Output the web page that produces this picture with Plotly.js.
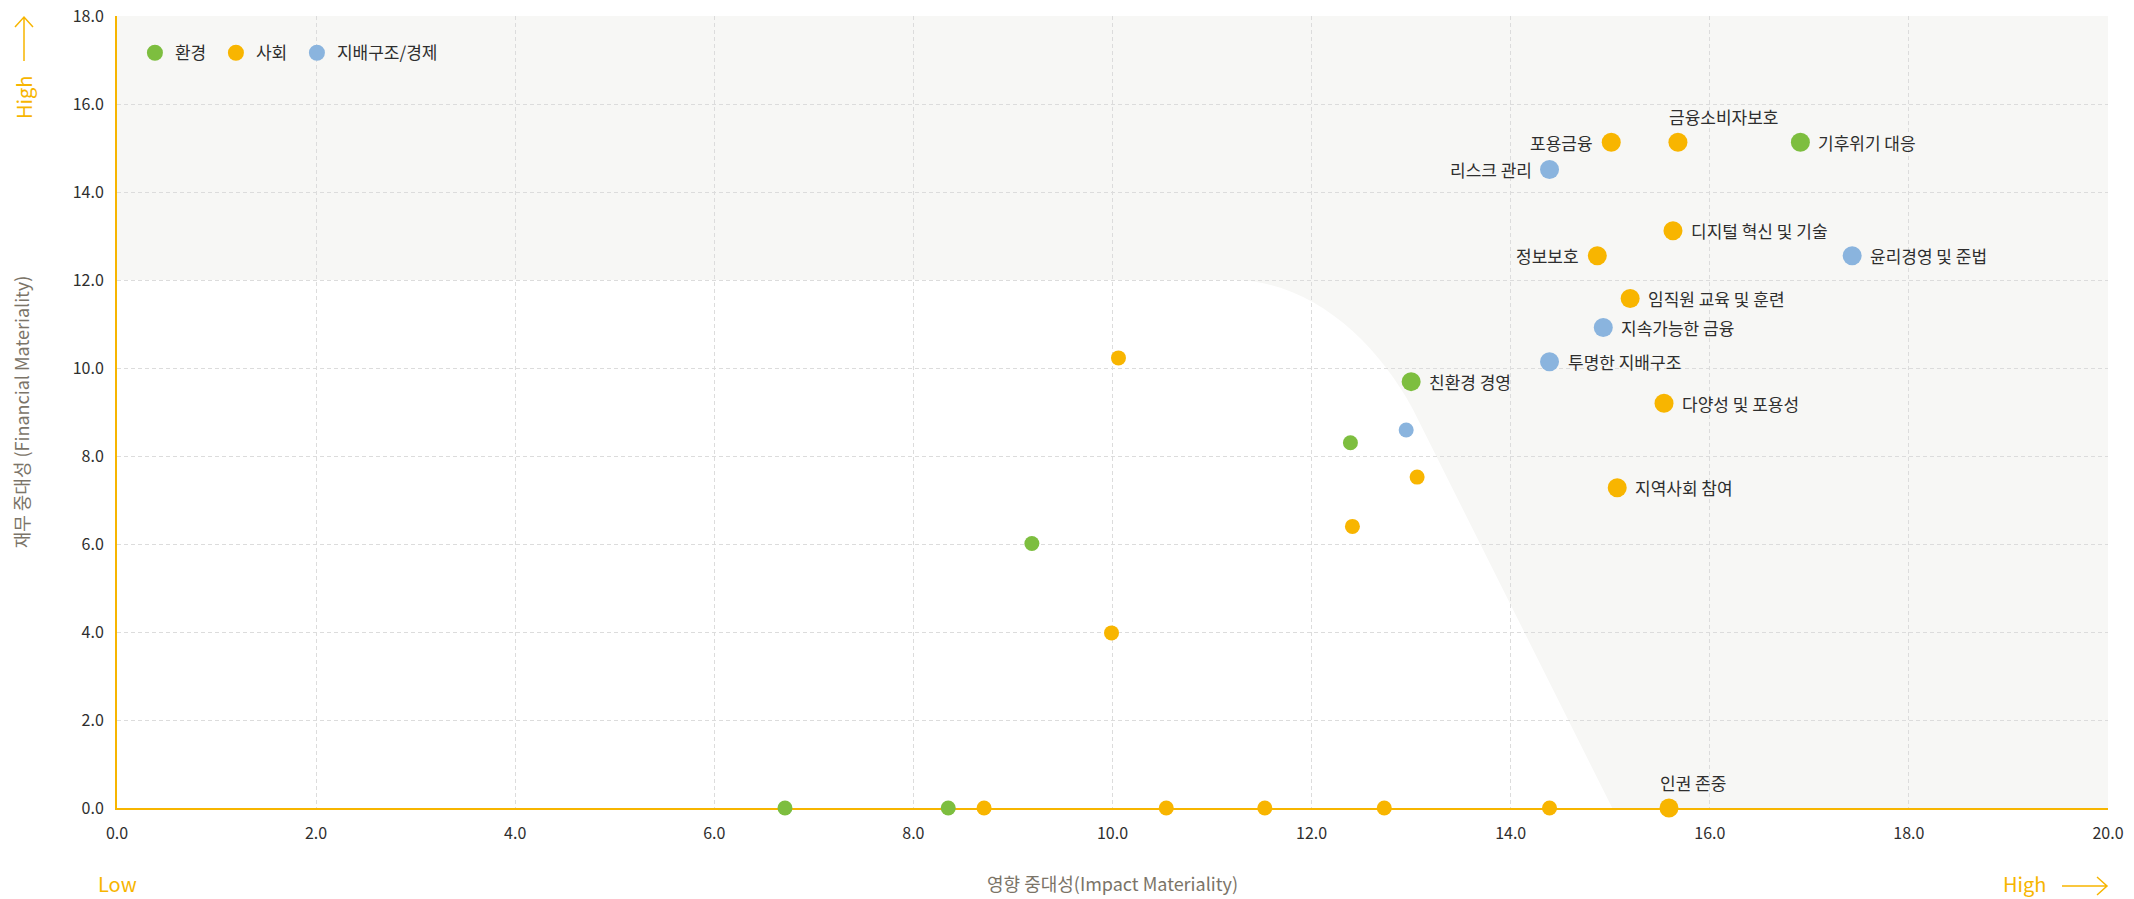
<!DOCTYPE html>
<html><head><meta charset="utf-8">
<script src="https://cdn.plot.ly/plotly-3.0.1.min.js"></script>
<style>html,body{margin:0;padding:0;background:#fff}</style>
</head><body><div id="chart" style="width:2134px;height:899px"></div>
<script>
// ---- data ----
const categories = ['환경', '사회', '지배구조/경제'];

const envLabels = ['기후위기 대응', '친환경 경영', '', '', '', ''];
const envX = [16.91, 13.00, 12.39, 9.19, 6.71, 8.35];
const envY = [15.13, 9.69, 8.30, 6.01, 0, 0];

const socLabels = ['금융소비자보호', '포용금융', '디지털 혁신 및 기술', '정보보호', '임직원 교육 및 훈련',
  '다양성 및 포용성', '지역사회 참여', '인권 존중', '', '', '', '', '', '', '', '', ''];
const socX = [15.68, 15.01, 15.63, 14.87, 15.20, 15.54, 15.07, 15.59, 10.06, 13.06, 12.41, 9.99, 8.71, 10.54, 11.53, 12.73, 14.39];
const socY = [15.13, 15.13, 13.12, 12.55, 11.58, 9.20, 7.28, 0, 10.23, 7.52, 6.40, 3.98, 0, 0, 0, 0, 0];

const govLabels = ['리스크 관리', '윤리경영 및 준법', '지속가능한 금융', '투명한 지배구조', ''];
const govX = [14.39, 17.43, 14.93, 14.39, 12.95];
const govY = [14.51, 12.55, 10.92, 10.14, 8.59];

const xTickVals = [0, 2, 4, 6, 8, 10, 12, 14, 16, 18, 20];
const xTickText = ['0.0', '2.0', '4.0', '6.0', '8.0', '10.0', '12.0', '14.0', '16.0', '18.0', '20.0'];
const yTickVals = [0, 2, 4, 6, 8, 10, 12, 14, 16, 18];
const yTickText = ['0.0', '2.0', '4.0', '6.0', '8.0', '10.0', '12.0', '14.0', '16.0', '18.0'];

const xTitle = '영향 중대성(Impact Materiality)';
const yTitle = '재무 중대성 (Financial Materiality)';

// ---- style ----
const FONT = '"Noto Sans CJK KR", "Noto Sans", sans-serif';
const colors = ['#7dbe3f', '#f8b500', '#8ab4de'];
const ACCENT = '#f7b500';
const labelSide = { '포용금융': 'left', '리스크 관리': 'left', '정보보호': 'left', '금융소비자보호': 'top', '인권 존중': 'top' };
const legendWidths = [36, 36, 130];

const series = [
  { labels: envLabels, x: envX, y: envY },
  { labels: socLabels, x: socX, y: socY },
  { labels: govLabels, x: govX, y: govY }
];

const traces = series.map((s, i) => ({
  type: 'scatter', mode: 'markers', name: categories[i],
  x: s.x, y: s.y, text: s.labels, cliponaxis: false, legendwidth: legendWidths[i],
  marker: { color: colors[i], opacity: 1, size: s.labels.map(l => l ? 19 : 15), line: { width: 0 } },
  hovertemplate: '%{text} (%{x}, %{y})<extra>' + categories[i] + '</extra>'
}));

const annotations = [];
series.forEach(s => {
  s.labels.forEach((l, j) => {
    if (!l) return;
    const side = labelSide[l] || 'right';
    const a = { x: s.x[j], y: s.y[j], xref: 'x', yref: 'y', text: l, showarrow: false,
      font: { family: FONT, size: 17, color: '#2e2e2e' }, yanchor: 'middle' };
    if (side === 'right') { a.xanchor = 'left'; a.xshift = 16; }
    else if (side === 'left') { a.xanchor = 'right'; a.xshift = -16; }
    else { a.xanchor = 'left'; a.xshift = -11; a.yshift = 26; }
    annotations.push(a);
  });
});
// corner indicators
annotations.push(
  { xref: 'paper', yref: 'paper', x: 0, y: -0.0947, text: 'Low', showarrow: false, xanchor: 'center', yanchor: 'middle',
    font: { family: FONT, size: 20, color: ACCENT } },
  { xref: 'paper', yref: 'paper', x: 0.9583, y: -0.0947, text: 'High', showarrow: false, xanchor: 'center', yanchor: 'middle',
    font: { family: FONT, size: 20, color: ACCENT } },
  { xref: 'paper', yref: 'paper', x: -0.0467, y: 0.8965, text: 'High', textangle: -90, showarrow: false, xanchor: 'center', yanchor: 'middle',
    font: { family: FONT, size: 20, color: ACCENT } }
);

const arrowLine = { color: ACCENT, width: 1.5 };
const shapes = [
  { type: 'path', layer: 'below', xref: 'x', yref: 'y',
    path: 'M0,0 L0,12 L11.2,12 C11.98,12 12.64,10.65 13.02,9.05 L15.02,0 Z',
    fillcolor: '#ffffff', line: { width: 0 } },
  { type: 'path', xref: 'paper', yref: 'paper', line: arrowLine,
    path: 'M0.9769,-0.09848 L0.9995,-0.09848 M0.99448,-0.08712 L0.9995,-0.09848 L0.99448,-0.10985' },
  { type: 'path', xref: 'paper', yref: 'paper', line: arrowLine,
    path: 'M-0.04671,0.94318 L-0.04671,0.99874 M-0.05123,0.98611 L-0.04671,0.99874 L-0.04219,0.98611' }
];

const axisCommon = {
  showgrid: true, gridcolor: '#dcdcdc', griddash: '4px,3px', gridwidth: 1,
  zeroline: false, layer: 'below traces',
  tickfont: { family: FONT, size: 16, color: '#2e2e2e' },
  tickmode: 'array', ticks: ''
};

const layout = {
  width: 2134, height: 899,
  margin: { l: 117, r: 26, t: 16, b: 91 },
  paper_bgcolor: '#ffffff', plot_bgcolor: '#f7f7f5',
  font: { family: FONT },
  showlegend: true,
  legend: { orientation: 'h', x: 0.009, y: 0.953, xanchor: 'left', yanchor: 'middle',
    bgcolor: 'rgba(0,0,0,0)', font: { family: FONT, size: 17, color: '#2e2e2e' } },
  xaxis: Object.assign({}, axisCommon, {
    range: [0, 20], tickvals: xTickVals, ticktext: xTickText,
    showline: true, linecolor: ACCENT, linewidth: 2, ticklabelstandoff: 10,
    title: { text: xTitle, standoff: 35, font: { family: FONT, size: 18, color: '#7b7468' } }
  }),
  yaxis: Object.assign({}, axisCommon, {
    range: [0, 18], tickvals: yTickVals, ticktext: yTickText,
    showline: true, linecolor: ACCENT, linewidth: 2, ticklabelstandoff: 8,
    title: { text: yTitle, standoff: 38, font: { family: FONT, size: 18, color: '#7b7468' } }
  }),
  shapes: shapes,
  annotations: annotations
};

Plotly.newPlot('chart', traces, layout, { displayModeBar: false, responsive: false });
</script>
</body></html>
